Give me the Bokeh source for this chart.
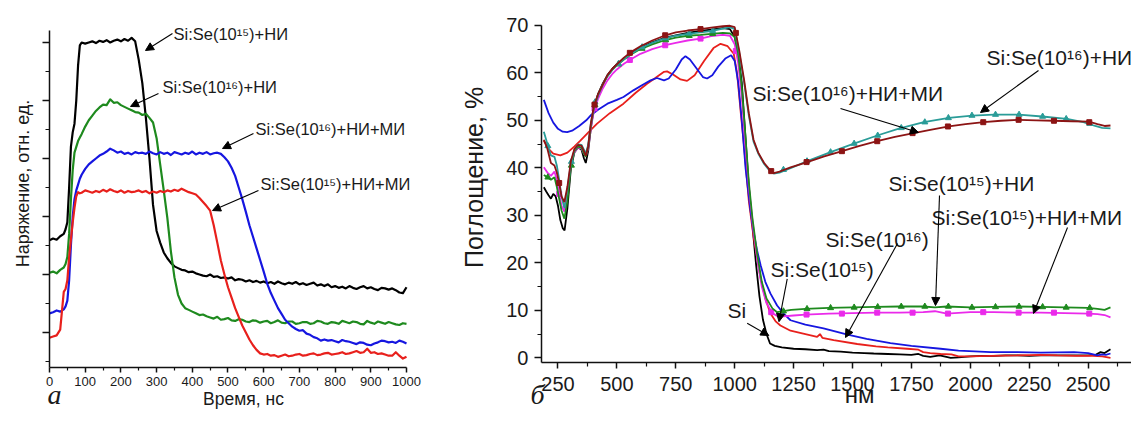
import math
from bokeh.plotting import figure
from bokeh.layouts import row
from bokeh.models import Label, Arrow, NormalHead, FixedTicker, Range1d, LinearAxis
from bokeh.embed import file_html
from bokeh.resources import INLINE

FONT = "Liberation Sans"
SERIF = "Liberation Serif"

# ---------------- Panel (a): voltage vs time ----------------
t_grid = [0, 10, 20, 30, 40, 45, 50, 55, 60, 65, 70, 75, 80, 85, 90] + list(range(100, 1001, 10))

v_black = [2.59, 2.62, 2.60, 2.66, 2.70, 2.78, 2.9, 3.5, 4.2, 4.45, 4.6, 5.0, 5.6, 5.95, 6.0,
           5.98, 6.0, 6.02, 5.99, 6.03, 6.01, 6.04, 6.0, 6.03, 6.05,
           6.02, 6.06, 6.03, 6.08, 6.02, 5.7, 5.3, 4.7, 4.0, 3.2,
           2.75, 2.55, 2.38, 2.28, 2.2, 2.14, 2.11, 2.08, 2.07, 2.04,
           2.05, 2.02, 2.0, 1.98, 1.97, 2.0, 1.96, 1.97, 1.94, 1.95,
           1.93, 1.95, 1.9, 1.92, 1.91, 1.88, 1.9, 1.87, 1.89, 1.86,
           1.88, 1.85, 1.87, 1.84, 1.88, 1.85, 1.83, 1.86, 1.84, 1.87,
           1.83, 1.85, 1.82, 1.84, 1.86, 1.81, 1.83, 1.8, 1.83, 1.78,
           1.8, 1.77, 1.79, 1.76, 1.8, 1.77, 1.75, 1.78, 1.8, 1.76,
           1.78, 1.75, 1.73, 1.77, 1.76, 1.74, 1.76, 1.73, 1.69, 1.68, 1.78]
v_green = [2.03, 2.05, 2.02, 2.08, 2.12, 2.18, 2.3, 2.7, 3.3, 3.8, 4.1, 4.2, 4.3, 4.36, 4.42,
           4.55, 4.66, 4.74, 4.82, 4.88, 4.93, 4.92, 5.02, 4.96, 4.97,
           4.92, 4.89, 4.86, 4.83, 4.8, 4.79, 4.75, 4.77, 4.7, 4.62,
           4.35, 3.9, 3.45, 2.98, 2.4, 1.95, 1.65, 1.5, 1.42, 1.39,
           1.36, 1.33, 1.3, 1.31, 1.28, 1.26, 1.24, 1.27, 1.22, 1.23,
           1.25, 1.21, 1.2, 1.23, 1.22, 1.19, 1.18, 1.21, 1.2, 1.17,
           1.19, 1.2, 1.16, 1.18, 1.21, 1.17, 1.16, 1.19, 1.19, 1.15,
           1.16, 1.18, 1.18, 1.15, 1.16, 1.2, 1.19, 1.16, 1.15, 1.18,
           1.17, 1.15, 1.2, 1.18, 1.16, 1.19, 1.18, 1.15, 1.14, 1.2,
           1.17, 1.15, 1.19, 1.17, 1.15, 1.18, 1.16, 1.14, 1.13, 1.16, 1.15]
v_blue = [1.33, 1.35, 1.38, 1.36, 1.4, 1.45, 1.55, 1.9, 2.5, 3.0, 3.3, 3.45, 3.55, 3.65, 3.72,
          3.82, 3.9, 3.95, 4.0, 4.05, 4.08, 4.12, 4.17, 4.14, 4.1,
          4.12, 4.08, 4.1, 4.07, 4.11, 4.09, 4.1, 4.08, 4.12, 4.09,
          4.07, 4.11, 4.08, 4.1, 4.06, 4.11, 4.09, 4.07, 4.1, 4.08,
          4.12, 4.07, 4.1, 4.08, 4.11, 4.07, 4.09, 4.1, 4.08, 4.02,
          3.95, 3.84, 3.7, 3.5, 3.3, 3.08, 2.85, 2.65, 2.45, 2.25,
          2.05, 1.84, 1.68, 1.55, 1.42, 1.32, 1.22, 1.16, 1.1, 1.06,
          1.03, 1.04, 0.98, 0.96, 0.92, 0.9, 0.86, 0.88, 0.86, 0.87,
          0.85, 0.83, 0.87, 0.85, 0.84, 0.82, 0.8, 0.83, 0.82, 0.79,
          0.78, 0.81, 0.83, 0.86, 0.85, 0.83, 0.84, 0.82, 0.86, 0.84, 0.81]
v_red = [0.91, 0.93, 0.95, 1.05, 1.7, 1.75, 1.9, 2.3, 2.6, 2.9, 3.15, 3.35, 3.42, 3.4, 3.41,
         3.45, 3.43, 3.41, 3.44, 3.42, 3.46, 3.43, 3.47, 3.44, 3.42,
         3.45, 3.41, 3.44, 3.42, 3.43, 3.45, 3.42, 3.44, 3.4, 3.43,
         3.41, 3.44, 3.42, 3.45, 3.43, 3.46, 3.44, 3.48, 3.45, 3.42,
         3.4, 3.38, 3.32, 3.25, 3.18, 3.1, 2.85, 2.55, 2.24, 2.0,
         1.78, 1.6, 1.42, 1.27, 1.12, 1.0, 0.88, 0.78, 0.7, 0.64,
         0.62, 0.63, 0.6, 0.61, 0.58, 0.6, 0.62, 0.59, 0.6, 0.62,
         0.63, 0.6, 0.61, 0.63, 0.64, 0.61, 0.62, 0.64, 0.65, 0.62,
         0.63, 0.64, 0.66, 0.63, 0.64, 0.66, 0.68, 0.65, 0.66, 0.72,
         0.65, 0.66, 0.63, 0.64, 0.62, 0.6, 0.6, 0.66, 0.6, 0.55, 0.58]

a_xticks = list(range(0, 1001, 100))
a_yticks = [1, 2, 3, 4, 5, 6]

# ---------------- Panel (b): absorption spectra ----------------
b_x_black = [190, 200, 210, 220, 230, 240, 250, 260, 270, 278, 290, 305, 320, 335, 350, 360, 368, 378, 390, 402,
             420, 440, 460, 480, 500, 530, 558, 600, 650, 706, 750, 800, 855, 900, 950, 980, 1000, 1015, 1030, 1045,
             1060, 1075, 1090, 1105, 1120, 1135, 1150, 1170, 1200, 1250, 1300, 1350, 1377, 1400, 1450, 1500, 1550, 1590, 1650, 1700,
             1750, 1780, 1800, 1830, 1870, 1917, 1950, 2000, 2050, 2100, 2150, 2200, 2250, 2300, 2350, 2400, 2450, 2500, 2530, 2553,
             2570, 2585, 2595]
b_y_black = [35.9, 35.0, 34.2, 33.5, 34.5, 34.0, 32.0, 29.0, 27.3, 26.8, 31.5, 40.0, 43.3, 44.3, 43.8, 42.0, 41.0, 43.5, 48.5, 52.5,
             55.5, 57.7, 59.5, 60.8, 61.8, 63.0, 64.0, 65.3, 66.4, 67.4, 67.9, 68.4, 68.8, 69.1, 69.4, 69.2, 67.5, 64, 58, 47,
             36, 28, 20, 13, 8, 5, 3.0, 2.5, 2.2, 1.9, 1.8, 1.6, 1.7, 1.4, 1.3, 1.1, 1.0, 0.9, 0.8, 0.7,
             0.6, 0.8, 0.4, 0.2, 0.5, 0.0, 0.1, 0.3, 0.4, 0.4, 0.5, 0.5, 0.4, 0.5, 0.5, 0.5, 0.5, 0.5, 0.6, 1.2,
             1.0, 1.5, 1.8]

b_x_red = [190, 210, 230, 260, 290, 320, 345, 380, 416, 470, 528, 580, 628, 660, 700, 713, 740, 770, 798, 830,
           870, 910, 940, 970, 996, 1010, 1025, 1039, 1060, 1080, 1109, 1130, 1152, 1175, 1194, 1237, 1300, 1350, 1362, 1372,
           1420, 1520, 1600, 1650, 1732, 1780, 1800, 1830, 1874, 1920, 1950, 2000, 2086, 2200, 2300, 2369, 2450, 2520, 2560, 2595]
b_y_red = [45.7, 44.0, 43.0, 42.6, 43.2, 44.5, 45.7, 47.5, 49.3, 51.5, 53.5, 55.8, 57.7, 58.8, 60.2, 60.3, 59.6, 58.6, 58.3, 59.5,
           62.5, 65.2, 66.1, 65.6, 64.0, 60.0, 52.0, 45.0, 33.0, 25.5, 17.0, 12.5, 9.3, 7.6, 6.8, 5.7, 5.0, 4.4, 5.0, 4.2,
           3.7, 2.9, 2.4, 2.2, 1.9, 1.7, 1.2, 1.0, 0.8, 0.7, 0.3, 0.3, 0.4, 0.5, 0.6, 0.5, 0.4, 0.4, 0.3, 0.0]

b_x_blue = [190, 210, 230, 250, 270, 289, 310, 340, 370, 388, 420, 460, 500, 528, 570, 610, 643, 670, 700, 720,
            750, 775, 791, 810, 840, 865, 883, 905, 930, 960, 985, 1000, 1015, 1030, 1046, 1067, 1080, 1095, 1110, 1130,
            1152, 1180, 1208, 1237, 1300, 1377, 1479, 1560, 1661, 1750, 1874, 1950, 2086, 2200, 2300, 2440, 2500, 2539, 2560, 2575,
            2595]
b_y_blue = [54.3, 51.5, 49.5, 48.2, 47.6, 47.5, 47.8, 48.8, 50.0, 51.0, 52.2, 53.5, 54.3, 54.9, 56.3, 57.5, 58.4, 58.9, 58.4, 58.8,
            60.7, 62.8, 63.5, 62.8, 60.8, 59.1, 58.8, 59.5, 61.3, 63.0, 63.7, 62.5, 58, 50, 40, 31, 26.5, 22.6, 19.5, 16,
            13.5, 11, 9.3, 7.9, 7.0, 6.2, 4.9, 4.0, 3.1, 2.5, 1.9, 1.5, 1.2, 1.2, 1.1, 1.2, 1.0, 0.5, 0.7, 0.6,
            0.9]

b_x_up = [190, 205, 220, 235, 245, 255, 265, 277, 290, 305, 320, 335, 350, 360, 368, 378, 390, 402, 420, 440,
          460, 480, 500, 530, 558, 600, 650, 706, 750, 800, 855, 900, 950, 980, 1000]

b_x_magenta = b_x_up + [1015, 1030, 1045, 1060, 1075, 1095, 1115, 1135, 1160, 1180, 1205, 1250, 1300, 1400, 1500,
                        1600, 1700, 1800, 1850, 1900, 2000, 2100, 2200, 2300, 2400, 2500, 2540, 2570, 2595]
b_y_magenta = [40.1, 39.0, 38.3, 39.2, 37.5, 34.5, 32.0, 30.8, 34.5, 41.0, 43.3, 44.3, 44.0, 43.0, 42.5, 44.0, 48.5, 51.8, 54.5, 56.7,
               58.4, 59.7, 60.7, 61.9, 62.8, 64.0, 65.0, 65.8, 66.3, 66.8, 67.2, 67.7, 68.0, 67.8, 66.0,
               62, 55, 45, 36, 29, 21, 15, 11.5, 9.4, 8.8, 8.7, 8.9, 9.1, 9.3, 9.4,
               9.5, 9.5, 9.6, 9.8, 9.3, 9.6, 9.6, 9.5, 9.5, 9.4, 9.3, 9.2, 9.0, 8.5]

b_x_green = b_x_up + [1015, 1030, 1045, 1060, 1075, 1095, 1115, 1135, 1160, 1180, 1205, 1240, 1300, 1400, 1500,
                      1600, 1700, 1800, 1850, 1900, 2000, 2100, 2200, 2300, 2400, 2500, 2540, 2570, 2595]
b_y_green = [38.5, 38.0, 37.5, 38.0, 36.0, 33.5, 31.0, 29.3, 33.0, 40.5, 43.5, 44.5, 44.2, 43.0, 42.3, 44.3, 49.0, 52.5, 55.3, 57.5,
             59.3, 60.6, 61.6, 62.8, 63.8, 65.0, 66.0, 66.9, 67.4, 67.8, 68.0, 68.2, 68.4, 68.3, 67.5,
             64, 57, 47, 37, 29.5, 22, 16, 12.5, 10.4, 9.6, 9.8, 10.1, 10.3, 10.5, 10.6,
             10.7, 10.8, 10.8, 10.6, 10.8, 10.6, 10.7, 10.8, 10.7, 10.6, 10.5, 10.3, 10.1, 10.6]

b_x_teal = b_x_up + [1020, 1040, 1060, 1080, 1100, 1125, 1150, 1166, 1190, 1237, 1308, 1407, 1500, 1605, 1700,
                     1803, 1909, 2008, 2100, 2206, 2305, 2410, 2480, 2530, 2560, 2595]
b_y_teal = [47.6, 45.0, 42.6, 42.3, 40.5, 37.5, 34.0, 31.5, 35.5, 41.0, 43.8, 44.9, 44.8, 43.8, 43.0, 44.8, 49.5, 52.5, 55.3, 57.5,
            59.3, 60.6, 61.6, 62.9, 63.9, 65.2, 66.3, 67.3, 67.8, 68.2, 68.5, 68.8, 69.3, 69.6, 69.2,
            64, 58, 51, 45.5, 43.0, 40.8, 39.3, 38.8, 39.0, 39.9, 41.4, 43.3, 45.0, 46.8, 48.3,
            49.6, 50.5, 51.0, 51.2, 51.2, 50.8, 50.3, 49.6, 48.8, 48.4, 48.3]

b_x_maroon = b_x_up + [1020, 1040, 1060, 1080, 1100, 1125, 1150, 1166, 1190, 1237, 1308, 1380, 1456, 1530, 1605,
                       1680, 1760, 1830, 1909, 1980, 2057, 2130, 2206, 2280, 2354, 2430, 2503, 2540, 2570, 2595]
b_y_maroon = [45.9, 44.0, 41.0, 40.5, 39.0, 36.8, 34.0, 32.8, 36.0, 41.5, 44.0, 44.8, 44.6, 43.5, 42.5, 44.5, 49.5, 52.9, 55.5, 57.5,
              59.5, 60.8, 61.8, 63.2, 64.3, 65.6, 66.8, 67.9, 68.5, 68.9, 69.2, 69.5, 69.8, 69.9, 69.6,
              64.5, 58.5, 51.5, 45.9, 43.2, 41.0, 39.5, 38.9, 39.2, 40.1, 41.2, 42.4, 43.5, 44.6, 45.6,
              46.5, 47.3, 48.0, 48.7, 49.2, 49.6, 49.9, 50.1, 50.0, 49.9, 49.8, 49.7, 49.2, 48.8, 48.9]

# marker positions
mk_x_tri = [207, 307, 407, 507, 607, 707, 807, 907, 1207, 1307, 1407, 1507, 1607, 1707, 1807, 1907, 2007, 2107, 2207, 2307, 2407, 2507]
mk_y_green = [38.0, 40.5, 53.2, 61.8, 65.1, 66.9, 67.8, 68.2, 9.8, 10.3, 10.5, 10.6, 10.7, 10.8, 10.8, 10.8, 10.6, 10.7, 10.8, 10.7, 10.6, 10.5]
mk_y_teal = [44.6, 41.3, 53.8, 61.9, 65.4, 67.3, 68.3, 68.8, 39.6, 41.4, 43.3, 45.1, 46.8, 48.4, 49.6, 50.5, 51.0, 51.2, 51.2, 50.8, 50.3, 49.3]
mk_x_sq = [255, 405, 555, 705, 855, 1005, 1155, 1305, 1455, 1605, 1755, 1905, 2055, 2205, 2355, 2505]
mk_y_maroon = [36.8, 53.3, 64.2, 67.9, 69.2, 68.4, 39.3, 41.2, 43.5, 45.6, 47.3, 48.7, 49.6, 50.1, 49.9, 49.6]
mk_y_magenta = [34.5, 52.5, 62.7, 65.8, 67.2, 64.6, 9.6, 9.1, 9.3, 9.5, 9.5, 9.3, 9.6, 9.5, 9.5, 9.3]

b_xticks = list(range(250, 2501, 250))
b_yticks = list(range(0, 71, 10))

for xs, ys in [(t_grid, v_black), (t_grid, v_green), (t_grid, v_blue), (t_grid, v_red),
               (b_x_black, b_y_black), (b_x_red, b_y_red), (b_x_blue, b_y_blue), (b_x_magenta, b_y_magenta),
               (b_x_green, b_y_green), (b_x_teal, b_y_teal), (b_x_maroon, b_y_maroon),
               (mk_x_tri, mk_y_green), (mk_x_tri, mk_y_teal), (mk_x_sq, mk_y_maroon), (mk_x_sq, mk_y_magenta)]:
    assert len(xs) == len(ys), (len(xs), len(ys))

C_BLACK = "#000000"
C_RED = "#e8201c"
C_BLUE = "#1616e0"
C_GREEN = "#1e8a1e"
C_MAGENTA = "#ea2aea"
C_TEAL = "#2a9c98"
C_MAROON = "#8c1414"
TXT = "#1a1a1a"


def make_axis(fixed, bounds, ticker, tick_font, t_out, m_out, standoff):
    ax = LinearAxis(fixed_location=fixed, bounds=bounds, ticker=ticker)
    ax.axis_line_width = 1.5
    ax.axis_line_color = "#111111"
    ax.major_tick_line_width = 1.5
    ax.minor_tick_line_width = 1.2
    ax.major_tick_line_color = "#111111"
    ax.minor_tick_line_color = "#111111"
    ax.major_tick_in = 0
    ax.minor_tick_in = 0
    ax.major_tick_out = t_out
    ax.minor_tick_out = m_out
    ax.major_label_text_font = FONT
    ax.major_label_text_font_size = tick_font
    ax.major_label_text_color = TXT
    ax.major_label_standoff = standoff
    return ax


def base_fig(w, xr, yr):
    p = figure(width=w, height=411, x_range=Range1d(*xr), y_range=Range1d(*yr),
               output_backend="svg", toolbar_location=None,
               x_axis_location=None, y_axis_location=None,
               min_border_left=0, min_border_right=0, min_border_top=0, min_border_bottom=0)
    p.outline_line_color = None
    p.grid.visible = False
    p.background_fill_color = "white"
    p.border_fill_color = "white"
    return p


def label(p, x, y, text, size, align="left", angle=0.0, font=FONT, style_="normal"):
    p.add_layout(Label(x=x, y=y, text=text, text_font=font, text_font_size=size, text_color=TXT,
                       text_align=align, text_baseline="middle", angle=angle, text_font_style=style_))


def arrow(p, x0, y0, x1, y1):
    p.add_layout(Arrow(end=NormalHead(size=8, line_color="black", fill_color="black", line_width=1),
                       x_start=x0, y_start=y0, x_end=x1, y_end=y1, line_color="black", line_width=1.1))


# ---------- figure a ----------
pa = base_fig(430, (-137.25, 1067.23), (-0.362, 6.724))
pa.add_layout(make_axis(0.397, (0, 1000), FixedTicker(ticks=a_xticks, minor_ticks=list(range(50, 1000, 100))),
                        "13px", 5, 3, 5), "below")
ya = make_axis(0, (0.397, 6.207), FixedTicker(ticks=a_yticks, minor_ticks=[0.5, 1.5, 2.5, 3.5, 4.5, 5.5]),
               "13px", 7, 4, 4)
ya.major_label_overrides = {v: "" for v in a_yticks}
pa.add_layout(ya, "left")

for ys, c in [(v_black, C_BLACK), (v_green, C_GREEN), (v_blue, C_BLUE), (v_red, C_RED)]:
    pa.line(t_grid, ys, line_color=c, line_width=2.2, line_join="round")

FA = "16.5px"
label(pa, 347.3, 6.138, "Si:Se(10¹⁵)+НИ", FA)
label(pa, 316.5, 5.233, "Si:Se(10¹⁶)+НИ", FA)
label(pa, 577.0, 4.5, "Si:Se(10¹⁶)+НИ+МИ", FA)
label(pa, 591.0, 3.552, "Si:Se(10¹⁵)+НИ+МИ", FA)
arrow(pa, 344.5, 6.155, 268.9, 5.862)
arrow(pa, 305.3, 5.121, 226.9, 4.897)
arrow(pa, 571.4, 4.431, 484.6, 4.172)
arrow(pa, 585.4, 3.448, 456.6, 3.103)

label(pa, 543.4, -0.155, "Время, нс", "17.5px", align="center")
label(pa, -75.6, 3.569, "Наряжение, отн. ед.", "18px", align="center", angle=math.pi / 2)
label(pa, -5.6, -0.069, "а", "28px", font=SERIF, style_="italic")

# ---------- figure b ----------
pb = base_fig(701, (-291.1, 2684.2), (-11.31, 75.22))
pb.add_layout(make_axis(-1.0, (180, 2684.2), FixedTicker(ticks=b_xticks, minor_ticks=list(range(375, 2700, 250))),
                        "20px", 6, 4, 8), "below")
pb.add_layout(make_axis(180, (-1.0, 70.06), FixedTicker(ticks=b_yticks, minor_ticks=list(range(5, 70, 10))),
                        "20px", 7, 4, 6), "left")

LW = 1.8
pb.line(b_x_black, b_y_black, line_color=C_BLACK, line_width=LW)
pb.line(b_x_red, b_y_red, line_color=C_RED, line_width=LW)
pb.line(b_x_blue, b_y_blue, line_color=C_BLUE, line_width=LW)
pb.line(b_x_magenta, b_y_magenta, line_color=C_MAGENTA, line_width=LW)
pb.scatter(mk_x_sq, mk_y_magenta, marker="square", size=5, fill_color=C_MAGENTA, line_color=C_MAGENTA)
pb.line(b_x_green, b_y_green, line_color=C_GREEN, line_width=LW)
pb.scatter(mk_x_tri, mk_y_green, marker="triangle", size=6, fill_color=C_GREEN, line_color=C_GREEN)
pb.line(b_x_teal, b_y_teal, line_color=C_TEAL, line_width=LW)
pb.scatter(mk_x_tri, mk_y_teal, marker="triangle", size=6, fill_color=C_TEAL, line_color=C_TEAL)
pb.line(b_x_maroon, b_y_maroon, line_color=C_MAROON, line_width=LW)
pb.scatter(mk_x_sq, mk_y_maroon, marker="square", size=5, fill_color=C_MAROON, line_color=C_MAROON)

FS = "21px"
label(pb, 2068.8, 63.22, "Si:Se(10¹⁶)+НИ", FS)
label(pb, 1075.6, 55.64, "Si:Se(10¹⁶)+НИ+МИ", FS)
label(pb, 1652.8, 36.59, "Si:Se(10¹⁵)+НИ", FS)
label(pb, 1835.3, 29.43, "Si:Se(10¹⁵)+НИ+МИ", FS)
label(pb, 1385.4, 24.8, "Si:Se(10¹⁶)", FS)
label(pb, 1152.0, 18.69, "Si:Se(10¹⁵)", FS)
label(pb, 969.5, 9.85, "Si", FS)
arrow(pb, 2289.5, 60.48, 2043.3, 51.64)
arrow(pb, 1449.1, 52.48, 1780.2, 47.43)
arrow(pb, 1869.3, 34.17, 1852.3, 11.0)
arrow(pb, 2412.6, 27.43, 2268.3, 9.33)
arrow(pb, 1691.0, 24.06, 1470.3, 4.27)
arrow(pb, 1223.0, 16.6, 1188.0, 7.6)
arrow(pb, 1053.0, 7.28, 1144.8, 4.69)

label(pb, 1529.8, -7.7, "нм", "24px", align="center")
label(pb, -104.4, 37.96, "Поглощение, %", "25px", align="center", angle=math.pi / 2)
label(pb, 133.3, -7.73, "б", "28px", font=SERIF, style_="italic")

layout = row(pa, pb, spacing=0)
open("out.html", "w").write(file_html(layout, INLINE))
